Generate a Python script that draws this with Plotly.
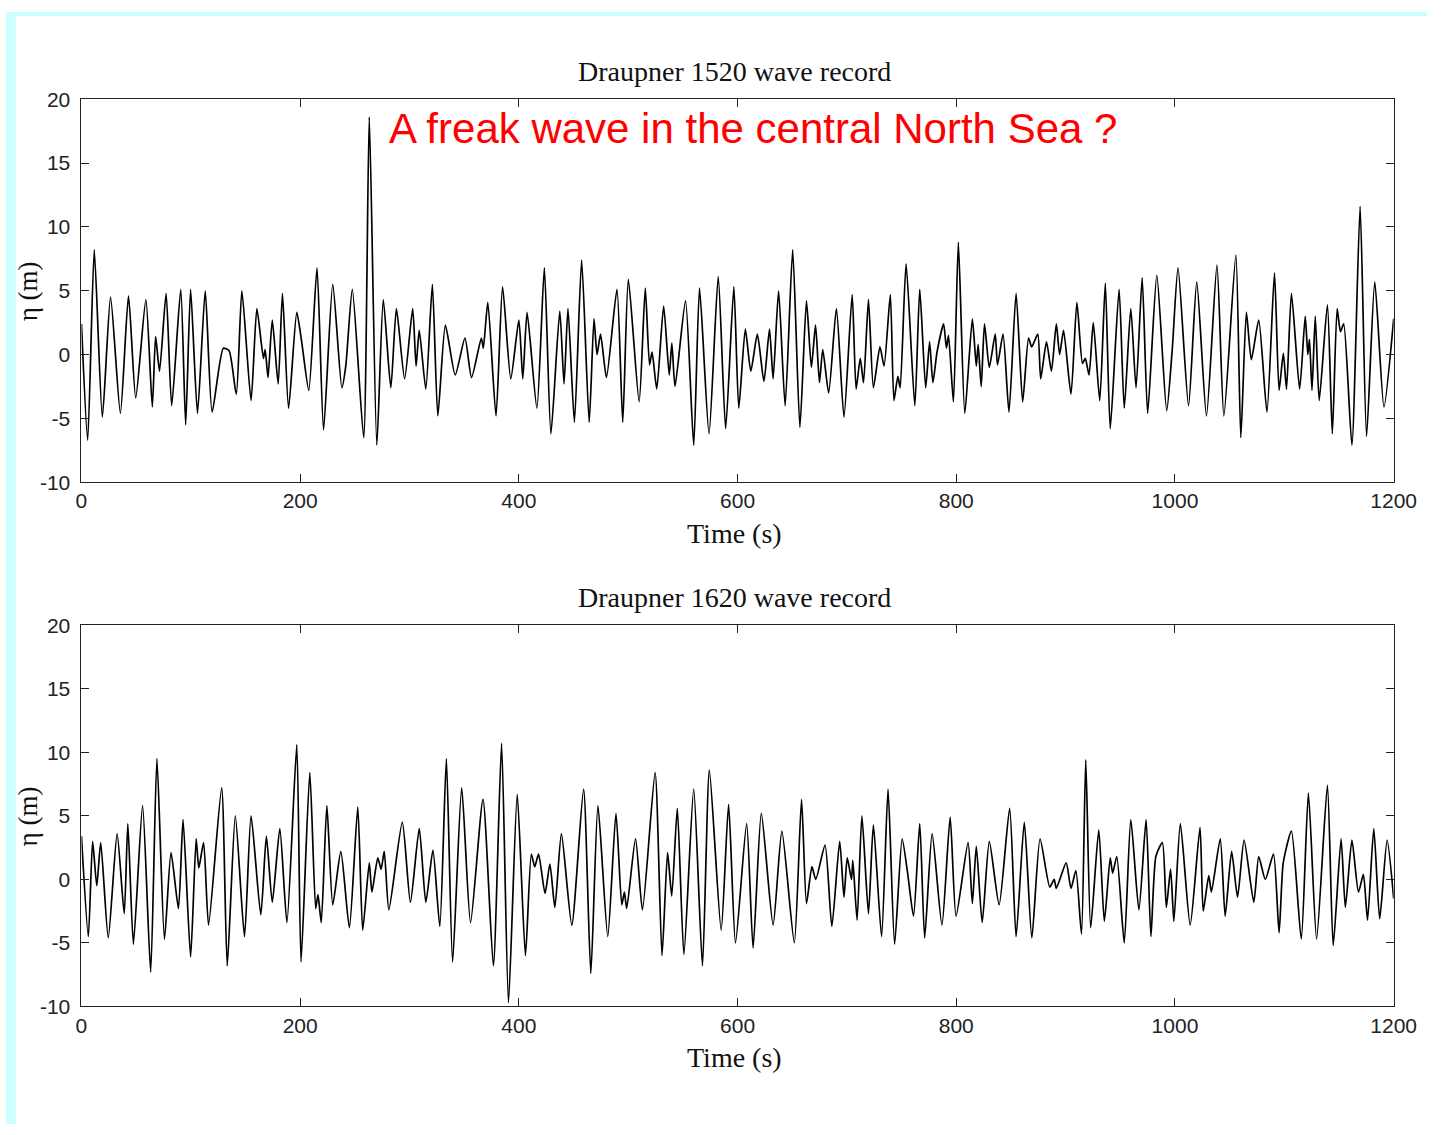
import plotly.graph_objects as go

# Draupner platform surface elevation records (peaks and troughs, eta in metres)
t_1520 = [0, 5.7, 11.7, 19.1, 26.6, 35.6, 43.0, 49.6, 58.9, 64.8, 67.8, 71.4, 77.4, 82.5, 90.8, 95.3,
          99.8, 106.1, 113.2, 119.5, 129.7, 135.0, 141.6, 146.7, 155.1, 160.4, 166.4, 168.0, 170.6,
          174.5, 179.9, 183.8, 189.4, 196.9, 201.4, 207.9, 215.4, 221.4, 229.8, 238.1, 241.7, 247.7,
          258.1, 263.2, 270.1, 276.0, 282.9, 288.0, 295.5, 302.9, 306.0, 308.9, 314.9, 320.9, 325.9,
          332.8, 341.8, 350.7, 356.7, 365.7, 367.5, 371.6, 379.1, 385.1, 392.6, 400.0, 403.6, 407.5,
          416.5, 423.3, 429.3, 437.4, 441.3, 444.9, 450.8, 457.4, 464.3, 468.7, 471.5, 474.7, 480.1,
          489.7, 495.0, 500.1, 510.0, 515.6, 519.5, 521.8, 526.1, 532.4, 537.5, 539.9, 542.8, 552.4,
          559.9, 565.2, 573.9, 582.3, 589.1, 596.6, 601.1, 607.1, 612.1, 618.1, 624.1, 629.2, 632.5,
          637.5, 643.5, 650.4, 657.0, 663.0, 667.5, 671.3, 674.9, 677.9, 683.3, 690.4, 697.3, 704.8,
          708.4, 712.2, 715.2, 719.7, 724.2, 730.2, 734.0, 739.7, 743.0, 746.6, 748.7, 754.1, 762.1,
          766.6, 772.0, 775.6, 778.6, 782.4, 788.4, 791.0, 792.9, 797.4, 801.9, 807.8, 814.7, 818.3,
          820.0, 822.8, 825.8, 830.2, 835.6, 837.7, 842.8, 848.2, 854.7, 860.7, 866.1, 869.0, 874.5,
          877.2, 882.5, 887.0, 891.5, 894.5, 898.1, 904.9, 910.3, 915.4, 918.0, 921.4, 925.3, 931.2,
          936.3, 940.8, 948.9, 953.6, 959.6, 964.4, 970.0, 975.0, 983.4, 992.4, 997.5, 1002.8,
          1012.4, 1019.9, 1028.8, 1038.4, 1044.7, 1055.7, 1060.2, 1065.3, 1069.8, 1076.6, 1084.1,
          1091.0, 1095.2, 1099.1, 1102.0, 1106.5, 1114.0, 1119.1, 1121.5, 1123.0, 1125.3, 1128.3,
          1131.9, 1139.4, 1143.9, 1148.3, 1151.3, 1154.3, 1161.8, 1169.3, 1175.2, 1182.7, 1191.1,
          1200.0]
eta_1520 = [2.4, -6.7, 8.2, -4.9, 4.5, -4.6, 4.6, -3.4, 4.3, -4.1, 1.4, -1.3, 4.8, -4.0, 5.1, -5.5,
            5.1, -4.6, 5.0, -4.5, 0.5, 0.3, -3.1, 5.0, -3.6, 3.6, -0.3, 0.4, -1.8,
            2.7, -2.3, 4.8, -4.2, 3.3, 1.0, -2.8, 6.8, -5.9, 5.5, -2.6, -0.9, 5.1,
            -6.5, 18.6, -7.1, 4.3, -2.6, 3.6, -1.9, 3.6, -0.9, 1.9, -2.7, 5.5, -4.8,
            2.3, -1.6, 1.3, -1.8, 1.3, 0.5, 4.1, -4.8, 5.3, -1.9, 2.7, -1.9, 3.3,
            -4.2, 6.8, -6.2, 3.4, -2.3, 3.6, -5.3, 7.4, -5.3, 2.8, 0.0, 1.6, -1.8,
            5.1, -5.3, 5.9, -3.7, 5.2, -0.8, 0.2, -2.7, 3.8, -1.6, 0.9, -2.5, 4.2,
            -7.1, 5.2, -6.2, 6.1, -5.8, 5.3, -4.2, 2.0, -1.3, 1.6, -2.1, 2.0, -1.9,
            5.0, -4.0, 8.2, -5.7, 4.2, -1.0, 2.3, -2.2, 0.4, -3.0, 3.6, -4.9, 4.7,
            -2.7, -0.3, -2.2, 4.3, -2.6, 0.6, -0.9, 4.7, -3.6, -1.7, -2.6, 7.1, -4.0,
            5.1, -2.6, 1.0, -2.2, 0.2, 2.4, 0.5, 1.5, -3.7, 8.8, -4.6, 2.8, -0.9,
            0.8, -2.5, 2.4, -1.0, 1.6, -0.8, 1.6, -4.5, 4.8, -3.7, 1.3, 0.6, 1.6,
            -1.9, 1.0, -1.3, 2.4, 0.0, 1.9, -3.1, 4.1, -0.7, -0.3, -1.6, 2.5, -3.6,
            5.6, -5.8, 5.1, -4.2, 3.6, -2.6, 6.0, -4.6, 6.2, -4.4, 0.4, 6.8,
            -4.0, 5.7, -4.8, 7.0, -4.8, 7.8, -6.5, 3.3, -0.4, 2.7, -4.5,
            6.4, -2.8, 0.1, -2.7, 4.8, -2.7, 3.0, 0.0, 1.2, -2.8, 3.0,
            -3.6, 3.9, -6.2, 3.6, 1.8, 2.4, -7.1, 11.6, -6.4, 5.7, -4.1,
            2.8]

t_1620 = [0, 6.3, 10.2, 14.0, 17.6, 24.5, 32.6, 39.1, 42.4, 47.5, 55.9, 63.3, 69.0, 75.9, 81.9,
          88.7, 92.9, 99.8, 104.9, 107.3, 111.7, 116.2, 128.2, 133.3, 140.7, 149.1, 155.1, 164.0,
          169.1, 174.5, 181.4, 187.9, 196.9, 200.8, 208.8, 214.2, 216.3, 219.3, 224.4, 229.8, 237.2,
          245.0, 252.7, 257.2, 263.2, 265.6, 271.0, 274.0, 276.9, 281.1, 293.4, 300.8, 308.9, 314.9,
          321.4, 327.7, 333.7, 339.4, 347.7, 355.8, 367.2, 376.7, 384.2, 390.5, 398.5, 406.0, 411.4,
          414.5, 418.0, 423.9, 428.4, 432.9, 438.9, 448.4, 459.2, 465.8, 472.3, 481.3, 488.8, 494.1,
          496.5, 498.6, 506.7, 513.0, 524.6, 530.9, 536.0, 539.8, 544.9, 550.9, 559.9, 567.9, 574.2,
          585.0, 591.8, 598.1, 608.3, 614.2, 621.7, 632.5, 640.5, 651.9, 658.5, 663.0, 668.0, 671.5,
          680.0, 686.2, 693.4, 697.3, 700.3, 704.2, 705.4, 709.3, 713.7, 719.7, 724.2, 731.7, 737.6,
          743.6, 750.5, 755.5, 760.9, 766.6, 771.1, 777.9, 786.9, 794.4, 799.8, 810.8, 814.7, 818.3,
          823.7, 830.2, 839.2, 848.8, 854.7, 862.2, 869.1, 876.6, 885.5, 889.5, 891.5, 900.5, 904.9,
          909.4, 914.5, 918.4, 922.9, 930.3, 935.4, 940.8, 943.0, 946.8, 953.6, 959.6, 967.0, 973.6,
          978.0, 982.5, 988.5, 992.1, 996.0, 999.0, 1004.9, 1013.9, 1022.9, 1025.8, 1030.9, 1033.3,
          1041.4, 1045.9, 1051.8, 1057.2, 1063.2, 1072.1, 1076.6, 1082.6, 1090.1, 1095.2, 1099.0,
          1106.5, 1115.5, 1122.0, 1129.5, 1139.4, 1144.7, 1151.9, 1155.8, 1161.8, 1167.8, 1172.3,
          1176.1, 1181.8, 1187.2, 1194.0, 1200.0]
eta_1620 = [3.4, -4.5, 3.0, -0.5, 2.9, -4.6, 3.6, -2.7, 4.4, -5.1, 5.8, -7.3, 9.5, -4.7, 2.1,
            -2.3, 4.7, -6.1, 3.2, 0.9, 2.9, -3.6, 7.2, -6.8, 5.0, -4.5, 5.0, -2.8,
            3.4, -1.8, 4.0, -3.4, 10.6, -6.5, 8.4, -2.3, -1.2, -3.4, 5.8, -2.0, 2.2,
            -3.8, 5.7, -4.0, 1.3, -1.0, 1.7, 0.8, 2.2, -2.4, 4.5, -1.8, 4.0, -1.8,
            2.3, -3.7, 9.5, -6.5, 7.2, -3.4, 6.3, -6.8, 10.7, -9.7, 6.7, -6.0, 2.0,
            1.0, 2.0, -1.1, 1.2, -2.2, 3.6, -3.6, 7.1, -7.4, 5.8, -4.5, 5.2, -2.0,
            -1.0, -2.3, 3.2, -2.4, 8.4, -6.0, 2.1, -1.3, 5.6, -5.9, 7.1, -6.8, 8.6,
            -4.0, 5.9, -5.0, 4.4, -5.4, 5.2, -3.6, 3.8, -5.0, 6.3, -1.9, 1.0, 0.0,
            2.7, -3.7, 3.0, -1.4, 1.7, 0.0, 1.5, -3.2, 5.0, -2.7, 4.3, -4.5, 7.1,
            -5.1, 3.2, 0.5, -2.9, 4.4, -4.6, 3.6, -3.6, 4.9, -2.9, 2.9, -1.9, 2.6,
            -3.4, 3.0, -2.0, 5.6, -4.5, 4.5, -4.6, 3.2, -0.6, 0.0, -0.7, 1.3, -0.7,
            0.7, -4.3, 9.4, -3.8, 3.9, -3.3, 1.7, 0.5, 1.8, -5.0, 4.7, -2.4, 4.7,
            -4.5, 1.8, 2.9, -2.2, 0.8, -3.3, 4.4, -3.6, 4.1, -2.5, 0.3, -1.0,
            3.2, -2.9, 2.2, -1.4, 3.1, -1.8, 1.8, 0.0, 2.0, -4.2, 1.3,
            3.8, -4.7, 6.8, -4.7, 7.4, -5.2, 3.2, -2.2, 3.1, -1.0, 0.4,
            -3.2, 4.0, -3.1, 3.1, -1.5]

titles = ["Draupner 1520 wave record", "Draupner 1620 wave record"]
x_ticks = [0, 200, 400, 600, 800, 1000, 1200]
x_ticktext = ["0", "200", "400", "600", "800", "1000", "1200"]
y_ticks = [-10, -5, 0, 5, 10, 15, 20]
y_ticktext = ["-10", "-5", "0", "5", "10", "15", "20"]

W, H = 1450, 1135
serif = "Liberation Serif, Times New Roman, serif"
sans = "Liberation Sans, Arial, sans-serif"


def px(x):
    return x / W


def py(y):
    return 1 - y / H


fig = go.Figure()
for xs, ys, xa, ya in [(t_1520, eta_1520, "x", "y"), (t_1620, eta_1620, "x2", "y2")]:
    fig.add_trace(go.Scatter(x=xs, y=ys, mode="lines", xaxis=xa, yaxis=ya,
                             line=dict(color="black", width=1.7, shape="spline", smoothing=0.6),
                             hoverinfo="skip", showlegend=False))

axis_common = dict(showline=True, linecolor="#222", linewidth=1, mirror="ticks",
                   ticks="inside", ticklen=8, tickcolor="#222", tickwidth=1,
                   showgrid=False, zeroline=False,
                   tickfont=dict(family=sans, size=21, color="#222"))
xaxis_style = dict(range=[0, 1200], tickvals=x_ticks, ticktext=x_ticktext, **axis_common)
yaxis_style = dict(range=[-10, 20], tickvals=y_ticks, ticktext=y_ticktext,
                   ticklabelstandoff=6, **axis_common)

fig.update_layout(
    width=W, height=H,
    margin=dict(l=0, r=0, t=0, b=0),
    paper_bgcolor="white", plot_bgcolor="white",
    xaxis=dict(domain=[px(77), px(1416)], anchor="y", **xaxis_style),
    yaxis=dict(domain=[py(480), py(89)], anchor="x", **yaxis_style),
    xaxis2=dict(domain=[px(77), px(1416)], anchor="y2", **xaxis_style),
    yaxis2=dict(domain=[py(1015), py(626)], anchor="x2", **yaxis_style),
    shapes=[
        # cyan slide frame along the left and top edges
        dict(type="rect", xref="paper", yref="paper", x0=0, x1=px(10), y0=0, y1=1,
             fillcolor="#ccffff", line=dict(width=0), layer="below"),
        dict(type="rect", xref="paper", yref="paper", x0=0, x1=1, y0=py(4), y1=1,
             fillcolor="#ccffff", line=dict(width=0), layer="below"),
    ],
)

annotations = []
for title, top, bottom in [(titles[0], 89, 480), (titles[1], 626, 1015)]:
    mid = (top + bottom) / 2
    annotations.append(dict(text=title, x=px(743), y=py(top - 28), xref="paper", yref="paper",
                            showarrow=False, xanchor="center", yanchor="middle",
                            font=dict(family=serif, size=28, color="#111")))
    annotations.append(dict(text="Time (s)", x=px(743), y=py(bottom + 52), xref="paper",
                            yref="paper", showarrow=False, xanchor="center", yanchor="middle",
                            font=dict(family=serif, size=28, color="#111")))
    annotations.append(dict(text="η (m)", x=px(22), y=py(mid + 1), xref="paper", yref="paper",
                            showarrow=False, xanchor="center", yanchor="middle", textangle=-90,
                            font=dict(family=serif, size=27, color="#111")))

annotations.append(dict(text="A freak wave in the central North Sea ?", x=px(389), y=py(119),
                        xref="paper", yref="paper", showarrow=False, xanchor="left",
                        yanchor="middle", font=dict(family=sans, size=42, color="#ff0000")))
fig.update_layout(annotations=annotations)

fig.write_html("out.html")
